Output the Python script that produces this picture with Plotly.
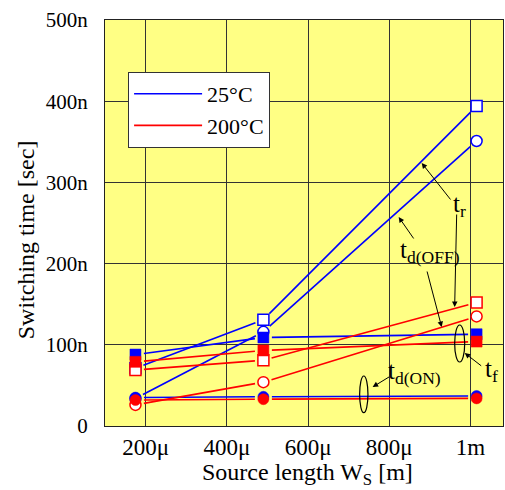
import math
import plotly.graph_objects as go

# ---- data (x in micrometres, y in nanoseconds) ----
source_len = [175, 490, 1015]
tr_25 = [71, 131, 394]
tdoff_25 = [34, 116, 351]
tf_25 = [88, 109, 113]
tdon_25 = [35, 36, 37]
tr_200 = [69, 81, 152]
tdoff_200 = [26, 54, 135]
tf_200 = [79, 93, 104]
tdon_200 = [32, 33, 34]

x_tickvals = [200, 400, 600, 800, 1000]
x_ticktext = ["200μ", "400μ", "600μ", "800μ", "1m"]
y_tickvals = [0, 100, 200, 300, 400, 500]
y_ticktext = ["0", "100n", "200n", "300n", "400n", "500n"]

BLUE = "#0000FF"
RED = "#FF0000"
FONT = "Liberation Serif"

# plot geometry (for gapped lines)
W, H = 505, 490
ML, MR, MT, MB = 105, 2, 20, 64
XR = [100, 1080]
YR = [0, 500]
pxx = (W - ML - MR) / (XR[1] - XR[0])
pxy = (H - MT - MB) / (YR[1] - YR[0])


def gapped(xs, ys, gap=8.5):
    ox, oy = [], []
    for i in range(len(xs) - 1):
        dx = (xs[i + 1] - xs[i]) * pxx
        dy = (ys[i + 1] - ys[i]) * pxy
        L = math.hypot(dx, dy)
        f = gap / L
        ox += [xs[i] + (xs[i + 1] - xs[i]) * f, xs[i + 1] - (xs[i + 1] - xs[i]) * f, None]
        oy += [ys[i] + (ys[i + 1] - ys[i]) * f, ys[i + 1] - (ys[i + 1] - ys[i]) * f, None]
    return ox, oy


fig = go.Figure()

series = [
    (tr_25, BLUE, "open", "square"),
    (tdoff_25, BLUE, "open", "circle"),
    (tf_25, BLUE, "filled", "square"),
    (tdon_25, BLUE, "filled", "circle"),
    (tr_200, RED, "open", "square"),
    (tdoff_200, RED, "open", "circle"),
    (tf_200, RED, "filled", "square"),
    (tdon_200, RED, "filled", "circle"),
]

for ys, col, fill, sym in series:
    lx, ly = gapped(source_len, ys)
    fig.add_trace(go.Scatter(x=lx, y=ly, mode="lines", line=dict(color=col, width=1.6),
                             showlegend=False, hoverinfo="skip"))
for ys, col, fill, sym in series:
    fig.add_trace(go.Scatter(
        x=source_len, y=ys, mode="markers", showlegend=False,
        marker=dict(symbol=sym, size=11,
                    color="white" if fill == "open" else col,
                    line=dict(color=col, width=1.5 if fill == "open" else 0.5))))

fig.add_trace(go.Scatter(x=[None], y=[None], mode="lines", name="25°C",
                         line=dict(color=BLUE, width=1.6)))
fig.add_trace(go.Scatter(x=[None], y=[None], mode="lines", name="200°C",
                         line=dict(color=RED, width=1.6)))

# ---- labels ----
ann = []
def label(x, y, txt):
    ann.append(dict(x=x, y=y, xref="x", yref="y", text=txt, showarrow=False,
                    font=dict(family=FONT, size=25, color="black"),
                    xanchor="center", yanchor="middle"))

def arrow(tx, ty, hx, hy):
    ann.append(dict(x=hx, y=hy, ax=tx, ay=ty, xref="x", yref="y", axref="x", ayref="y",
                    text="", showarrow=True, arrowhead=2, arrowsize=1.1, arrowwidth=1,
                    arrowcolor="black", standoff=0, startstandoff=0))

label(972, 272, "t<sub>r</sub>")
label(900, 215, "t<sub>d(OFF)</sub>")
label(1052, 68, "t<sub>f</sub>")
label(862, 66, "t<sub>d(ON)</sub>")

arrow(953.7, 277.1, 879.8, 323.9)
arrow(966, 262.3, 961, 146.6)
arrow(862.5, 229.1, 823.1, 257.4)
arrow(892.1, 192.1, 929, 121.9)
arrow(1030, 72.7, 985.7, 89.9)
arrow(803.4, 61.6, 759, 48)

ann.append(dict(x=-0.198, y=0.458, xref="paper", yref="paper", text="Switching time [sec]",
                textangle=-90, showarrow=False, font=dict(family=FONT, size=24, color="black"),
                xanchor="center", yanchor="middle"))
ann.append(dict(x=0.508, y=-0.119, xref="paper", yref="paper", text="Source length W<sub>S</sub> [m]",
                showarrow=False, font=dict(family=FONT, size=24, color="black"),
                xanchor="center", yanchor="middle"))

shapes = [
    dict(type="circle", xref="x", yref="y", x0=961, x1=985.7, y0=78.8, y1=124.4,
         line=dict(color="black", width=1.2)),
    dict(type="circle", xref="x", yref="y", x0=727, x1=747.5, y0=16.4, y1=61.6,
         line=dict(color="black", width=1.2)),
]

fig.update_layout(
    width=W, height=H,
    margin=dict(l=ML, r=MR, t=MT, b=MB, autoexpand=False),
    paper_bgcolor="white",
    plot_bgcolor="#FFFF84",
    font=dict(family=FONT, size=21, color="black"),
    annotations=ann,
    shapes=shapes,
    legend=dict(x=0.058, y=0.872, xanchor="left", yanchor="top",
                bgcolor="white", bordercolor="#333", borderwidth=1,
                font=dict(family=FONT, size=22), itemwidth=68),
    showlegend=True,
)
fig.update_xaxes(range=XR, tickvals=x_tickvals, ticktext=x_ticktext, automargin=False,
                 showgrid=True, gridcolor="#333", gridwidth=1, zeroline=False,
                 showline=True, linecolor="#222", linewidth=1.2, mirror=True,
                 ticks="", ticklabelstandoff=0, tickfont=dict(family=FONT, size=23))
fig.update_yaxes(range=YR, tickvals=y_tickvals, ticktext=y_ticktext, automargin=False,
                 showgrid=True, gridcolor="#333", gridwidth=1, zeroline=False,
                 showline=True, linecolor="#222", linewidth=1.2, mirror=True,
                 ticks="", ticklabelstandoff=12, tickfont=dict(family=FONT, size=21))

fig.write_html("out.html", config={"displayModeBar": False},
               post_script="document.body.style.margin='0';document.body.style.overflow='hidden';")
